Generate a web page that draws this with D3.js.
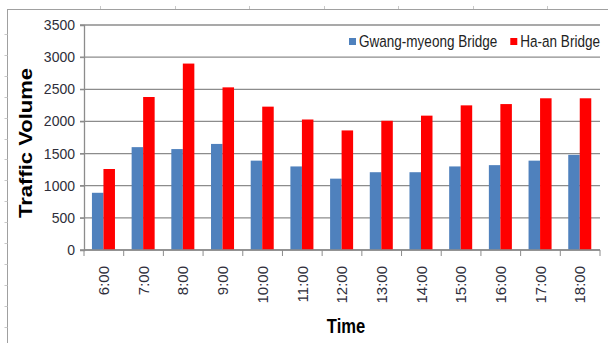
<!DOCTYPE html>
<html>
<head>
<meta charset="utf-8">
<script src="https://cdn.jsdelivr.net/npm/d3@7"></script>
<style>
  body { margin: 0; background: #fff; }
  text { font-family: "Liberation Sans", Arial, sans-serif; }
</style>
</head>
<body>
<div id="chart"></div>
<script>
// data
var hours = ['6:00', '7:00', '8:00', '9:00', '10:00', '11:00', '12:00',
             '13:00', '14:00', '15:00', '16:00', '17:00', '18:00'];
var gwangmyeong = [890, 1600, 1570, 1650, 1390, 1300, 1110, 1210, 1210, 1300, 1320, 1390, 1480];
var haan = [1260, 2380, 2900, 2530, 2230, 2030, 1860, 2010, 2090, 2250, 2270, 2360, 2360];
var seriesNames = ['Gwang-myeong Bridge', 'Ha-an Bridge'];
var seriesColors = ['#4f81bd', '#ff0000'];
var yTicks = [0, 500, 1000, 1500, 2000, 2500, 3000, 3500];

var width = 608, height = 343;
var plotLeft = 84, plotRight = 600, plotTop = 25, plotBottom = 250;

var svg = d3.select('#chart').append('svg')
    .attr('width', width)
    .attr('height', height);

// frame lines of the sheet around the chart
var frame = svg.append('g').attr('stroke', '#a0a0a0').attr('stroke-width', 1);
frame.append('line').attr('x1', 7.5).attr('x2', 7.5).attr('y1', 9).attr('y2', height);
frame.append('line').attr('x1', 7.5).attr('x2', width).attr('y1', 9.5).attr('y2', 9.5);
// faint ruler marks
frame.selectAll('.rl').data(d3.range(34, height, 20.9)).enter().append('line')
    .attr('x1', 4.5).attr('x2', 7.5).attr('y1', function(d){ return Math.round(d) + 0.5; })
    .attr('y2', function(d){ return Math.round(d) + 0.5; })
    .attr('stroke', '#c8c8c8');
frame.selectAll('.rt').data(d3.range(100, width, 74.5)).enter().append('line')
    .attr('y1', 6).attr('y2', 9).attr('x1', function(d){ return Math.round(d) + 0.5; })
    .attr('x2', function(d){ return Math.round(d) + 0.5; })
    .attr('stroke', '#c8c8c8');

var x0 = d3.scaleBand().domain(hours).range([plotLeft, plotRight]).padding(0);
var bw = x0.bandwidth();
var x1 = d3.scaleBand().domain(seriesNames).range([bw * 0.2, bw * 0.78]);
var y = d3.scaleLinear().domain([0, 3500]).range([plotBottom, plotTop]);

// gridlines
svg.append('g').selectAll('line').data(yTicks).enter().append('line')
    .attr('x1', plotLeft - 4).attr('x2', plotRight)
    .attr('y1', function(d){ return y(d); })
    .attr('y2', function(d){ return y(d); })
    .attr('stroke', '#8c8c8c')
    .attr('stroke-width', 1.3);

// y axis
var yAxis = svg.append('g')
    .attr('transform', 'translate(' + plotLeft + ',0)')
    .call(d3.axisLeft(y).tickValues(yTicks).tickSize(4).tickPadding(5).tickFormat(d3.format('d')));
yAxis.select('.domain').attr('stroke', '#8c8c8c').attr('stroke-width', 1.3);
yAxis.selectAll('.tick line').attr('stroke', '#8c8c8c');
yAxis.selectAll('text').attr('font-size', '14px').attr('fill', '#2e2e3a')
    .attr('font-family', '"Liberation Sans", Arial, sans-serif');

// bars
var rows = hours.map(function(h, i){
    return { hour: h, values: [gwangmyeong[i], haan[i]] };
});
var groups = svg.append('g').selectAll('g').data(rows).enter().append('g')
    .attr('transform', function(d){ return 'translate(' + x0(d.hour) + ',0)'; });
groups.selectAll('rect').data(function(d){
        return d.values.map(function(v, k){ return { key: seriesNames[k], value: v, color: seriesColors[k] }; });
    }).enter().append('rect')
    .attr('x', function(d){ return x1(d.key); })
    .attr('width', x1.bandwidth())
    .attr('y', function(d){ return y(d.value); })
    .attr('height', function(d){ return y(0) - y(d.value); })
    .attr('fill', function(d){ return d.color; });

// x axis
var xAxis = svg.append('g')
    .attr('transform', 'translate(0,' + plotBottom + ')');
xAxis.append('line').attr('x1', plotLeft).attr('x2', plotRight).attr('y1', 0).attr('y2', 0)
    .attr('stroke', '#8c8c8c').attr('stroke-width', 1.3);
xAxis.selectAll('.tk').data(hours.concat(['end'])).enter().append('line')
    .attr('x1', function(d, i){ return plotLeft + i * bw; })
    .attr('x2', function(d, i){ return plotLeft + i * bw; })
    .attr('y1', 0).attr('y2', 6)
    .attr('stroke', '#8c8c8c');
xAxis.selectAll('text').data(hours).enter().append('text')
    .attr('transform', function(d){ return 'translate(' + (x0(d) + bw / 2) + ',16) rotate(-90)'; })
    .attr('dy', '0.35em')
    .attr('text-anchor', 'end')
    .attr('font-size', '15px')
    .attr('fill', '#2e2e3a')
    .text(function(d){ return d; });

// axis titles
svg.append('text')
    .attr('transform', 'translate(32,143) rotate(-90) scale(1,0.87)')
    .attr('text-anchor', 'middle')
    .attr('font-size', '22px')
    .attr('font-weight', 'bold')
    .attr('fill', '#000')
    .text('Traffic Volume');

svg.append('text')
    .attr('transform', 'translate(346,333) scale(0.85,1)')
    .attr('text-anchor', 'middle')
    .attr('font-size', '19.5px')
    .attr('font-weight', 'bold')
    .attr('fill', '#000')
    .text('Time');

// legend
var legend = svg.append('g');
var lx = 349;
seriesNames.forEach(function(name, k){
    legend.append('rect')
        .attr('x', lx).attr('y', 38)
        .attr('width', 7).attr('height', 7)
        .attr('fill', seriesColors[k]);
    var t = legend.append('text')
        .attr('transform', 'translate(' + (lx + 10) + ',47.3) scale(0.82,1)')
        .attr('font-size', '16.5px')
        .attr('fill', '#222')
        .text(name);
    lx += 10 + t.node().getComputedTextLength() * 0.82 + 13;
});
</script>
</body>
</html>
